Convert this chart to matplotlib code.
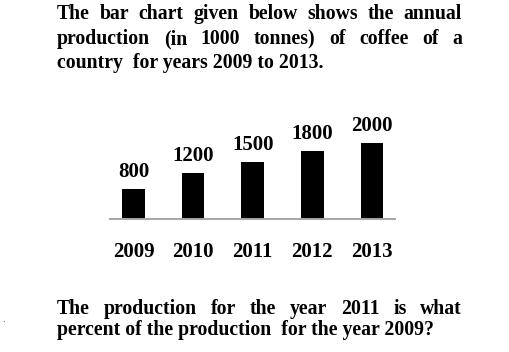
import matplotlib
matplotlib.use("Agg")
import matplotlib.pyplot as plt
from matplotlib.transforms import blended_transform_factory

years = ["2009", "2010", "2011", "2012", "2013"]
production = [800, 1200, 1500, 1800, 2000]
title_lines = [
    "The bar chart given below shows the annual",
    "production (in 1000 tonnes) of coffee of a",
    "country  for years 2009 to 2013.",
]
question_lines = [
    "The production for the year 2011 is what",
    "percent of the production  for the year 2009?",
]

W, H = 509, 352
fig = plt.figure(figsize=(W / 100, H / 100), dpi=100)
FONT = dict(family="Liberation Serif", weight="bold", color="black")
FS_TXT = 14.2
FS_CHART = 15

ax = fig.add_axes([110 / W, (H - 219) / H, 285 / W, 119 / H])
x = list(range(len(years)))
ax.bar(x, production, width=0.38, color="black")
ax.set_xlim(-0.394, 4.386)
ax.set_ylim(0, 119 / 76 * 2000)
for s in ["top", "right", "left"]:
    ax.spines[s].set_visible(False)
ax.spines["bottom"].set_color("#a6a6a6")
ax.spines["bottom"].set_linewidth(1.4)
ax.set_xticks([])
ax.set_yticks([])
ax.patch.set_alpha(0)

for xi, v in zip(x, production):
    ax.annotate(str(v), (xi, v), xytext=(0, 12), textcoords="offset pixels",
                ha="center", va="baseline", fontsize=FS_CHART, **FONT)

tr = blended_transform_factory(ax.transData, fig.transFigure)
for xi, yr in zip(x, years):
    ax.text(xi, (H - 257) / H, yr, transform=tr, ha="center", va="baseline",
            fontsize=FS_CHART, **FONT)

fig.canvas.draw()
renderer = fig.canvas.get_renderer()


def justified(line, y_px, x0, x1, justify=True):
    if not justify:
        fig.text(x0 / W, (H - y_px) / H, line, fontsize=FS_TXT, va="baseline", **FONT)
        return
    words = line.split()
    texts = []
    widths = []
    for w in words:
        t = fig.text(0, 0, w, fontsize=FS_TXT, **FONT)
        widths.append(t.get_window_extent(renderer).width)
        texts.append(t)
    gap = (x1 - x0 - sum(widths)) / (len(words) - 1)
    cx = x0
    for t, wd in zip(texts, widths):
        t.set_position((cx / W, (H - y_px) / H))
        t.set_va("baseline")
        cx += wd + gap


justified(title_lines[0], 19, 57, 462)
justified(title_lines[1], 44, 57, 462)
justified(title_lines[2], 68, 57, 462, justify=False)
justified(question_lines[0], 314, 57, 462)
justified(question_lines[1], 335, 57, 462, justify=False)
fig.text(2 / W, (H - 322) / H, ".", fontsize=6, color="black")

fig.savefig("out.png", dpi=100)
